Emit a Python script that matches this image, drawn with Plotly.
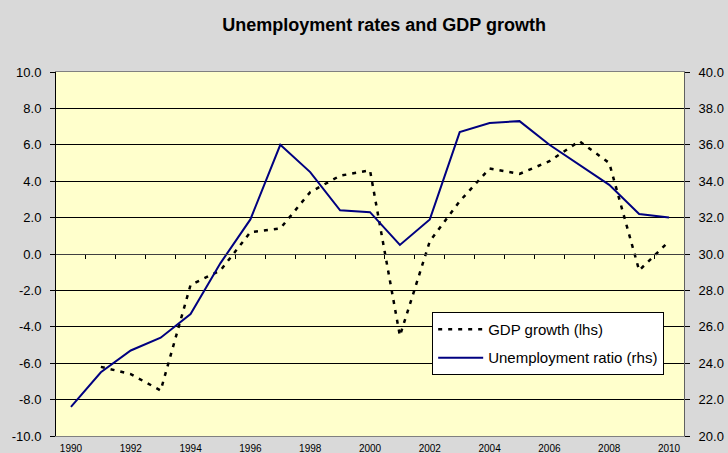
import plotly.graph_objects as go

# ---- data ----
years = list(range(1990, 2011))
gdp_growth = [None, -6.2, -6.6, -7.5, -1.7, -0.9, 1.2, 1.4, 3.4, 4.3, 4.6,
              -4.5, 0.7, 2.9, 4.7, 4.4, 5.1, 6.2, 5.0, -0.9, 0.7]
unemployment_ratio = [21.6, 23.5, 24.7, 25.4, 26.7, 29.5, 31.9, 36.0, 34.5, 32.4, 32.3,
                      30.5, 31.9, 36.7, 37.2, 37.3, 36.0, 34.9, 33.8, 32.2, 32.0]
x_tick_years = years[::2]
x_tick_labels = [str(y) for y in x_tick_years]
lhs_ticks = [-10, -8, -6, -4, -2, 0, 2, 4, 6, 8, 10]
lhs_tick_labels = ["-10.0", "-8.0", "-6.0", "-4.0", "-2.0", "0.0", "2.0", "4.0", "6.0", "8.0", "10.0"]
rhs_ticks = [20, 22, 24, 26, 28, 30, 32, 34, 36, 38, 40]
rhs_tick_labels = ["20.0", "22.0", "24.0", "26.0", "28.0", "30.0", "32.0", "34.0", "36.0", "38.0", "40.0"]

FONT = "Liberation Sans, Arial, sans-serif"

fig = go.Figure()
fig.add_trace(go.Scatter(
    x=years, y=gdp_growth, name="GDP growth (lhs)", mode="lines",
    line=dict(color="black", width=2.5, dash="4px,6px"),
    xaxis="x", yaxis="y", legendgroup="g1", connectgaps=False,
))
fig.add_trace(go.Scatter(
    x=years, y=unemployment_ratio, name="Unemployment ratio (rhs)", mode="lines",
    line=dict(color="#000080", width=2),
    xaxis="x2", yaxis="y2", legendgroup="g2",
))

xrange = [years[0] - 0.5, years[-1] + 0.5]
boundary_ticks = [y + 0.5 for y in years[:-1]]

fig.update_layout(
    width=728, height=453,
    margin=dict(l=56, r=44, t=72, b=17, pad=0, autoexpand=False),
    paper_bgcolor="#D9D9D9",
    plot_bgcolor="#FFFFCC",
    font=dict(family=FONT, color="black", size=13),
    title=dict(text="<b>Unemployment rates and GDP growth</b>",
               x=0.5275, xref="container", xanchor="center",
               y=1 - 25 / 453, yref="container", yanchor="middle",
               font=dict(size=18, family=FONT, color="black")),
    showlegend=True,
    legend=dict(x=0.599, y=0.341, xanchor="left", yanchor="top",
                bgcolor="white", bordercolor="black", borderwidth=1,
                font=dict(size=15, family=FONT, color="black"),
                traceorder="grouped", tracegroupgap=6, itemwidth=45),
    # zero-line axis with category boundary ticks
    xaxis=dict(range=xrange, anchor="free", position=0.5, side="bottom",
               tickmode="array", tickvals=boundary_ticks, showticklabels=False,
               ticks="outside", ticklen=4, tickcolor="black", tickwidth=1,
               showgrid=False, zeroline=False, showline=True,
               linecolor="#404040", linewidth=1, automargin=False),
    # bottom axis carrying the year labels
    xaxis2=dict(range=xrange, overlaying="x", anchor="y2", side="bottom",
                tickmode="array", tickvals=x_tick_years, ticktext=x_tick_labels,
                showgrid=False, zeroline=False, showline=True, mirror=True,
                linecolor="#808080", linewidth=1, ticks="",
                tickfont=dict(size=10), ticklabelstandoff=3, automargin=False),
    yaxis=dict(range=[-10, 10], tickmode="array", tickvals=lhs_ticks, ticktext=lhs_tick_labels,
               showgrid=True, gridcolor="black", gridwidth=1, zeroline=False,
               showline=True, linecolor="black", linewidth=1,
               ticks="outside", ticklen=5, tickcolor="black", tickfont=dict(size=13),
               ticklabelstandoff=6, automargin=False),
    yaxis2=dict(range=[20, 40], overlaying="y", side="right", anchor="x2",
                tickmode="array", tickvals=rhs_ticks, ticktext=rhs_tick_labels,
                showgrid=False, zeroline=False, showline=True,
                linecolor="#606060", linewidth=1,
                ticks="outside", ticklen=5, tickcolor="black", tickfont=dict(size=13),
                ticklabelstandoff=6, automargin=False),
)

fig.write_html("out.html", config={"displayModeBar": False},
               post_script="document.body.style.margin='0';document.body.style.overflow='hidden';")
